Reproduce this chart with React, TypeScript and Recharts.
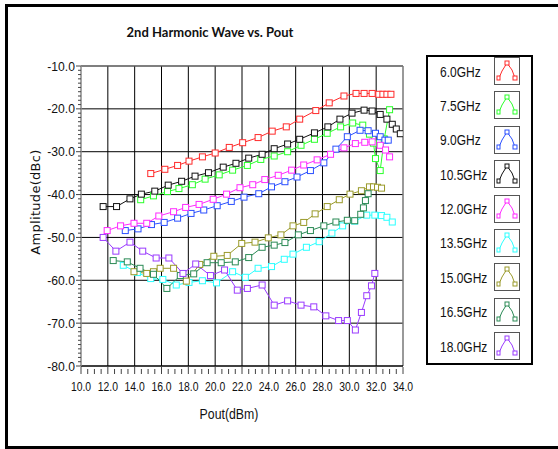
import React from "react"
import { ComposedChart, Line, XAxis, YAxis, CartesianGrid, ReferenceLine, Legend } from "recharts"

type Pt = [number, number]

// Pout (dBm), amplitude (dBc) per frequency
const f60: Pt[] = [
  [15.2, -35.1], [16.25, -34.1], [17.2, -33.2], [18.05, -32.2], [19.05, -31.2], [20.0, -30.3],
  [21.05, -29.0], [22.05, -27.9], [23.2, -26.7], [24.25, -25.2], [25.3, -24.2], [26.3, -22.4],
  [27.5, -20.4], [28.5, -18.6], [29.6, -17.0], [30.5, -16.4], [31.1, -16.4], [31.7, -16.4],
  [32.2, -16.6], [32.5, -16.6], [32.8, -16.6], [33.1, -16.6],
]
const f75: Pt[] = [
  [14.45, -41.2], [15.4, -40.3], [16.45, -39.3], [17.3, -38.6], [18.3, -37.7], [19.25, -36.4],
  [20.3, -35.4], [21.3, -34.3], [22.4, -33.2], [23.4, -31.8], [24.4, -31.0], [25.4, -30.0],
  [26.4, -28.5], [27.4, -27.1], [28.35, -25.7], [29.35, -24.2], [30.25, -23.3], [31.0, -23.8],
  [31.5, -25.9], [31.8, -28.0], [31.95, -31.6], [32.3, -34.4], [32.6, -27.0], [33.0, -20.2],
]
const f90: Pt[] = [
  [13.3, -48.4], [14.25, -48.0], [15.25, -47.0], [16.2, -46.5], [17.2, -45.5], [18.2, -44.4],
  [19.15, -43.6], [20.15, -42.6], [21.2, -41.6], [22.15, -40.6], [23.25, -39.8], [24.2, -38.2],
  [25.2, -37.0], [26.1, -35.9], [27.1, -34.4], [28.1, -32.6], [29.0, -29.4], [29.85, -26.5],
  [30.8, -25.0], [31.4, -25.1], [31.95, -25.7], [32.3, -26.5], [32.65, -27.3], [32.9, -27.3],
]
const f105: Pt[] = [
  [11.65, -42.8], [12.65, -42.8], [13.65, -41.0], [14.5, -39.9], [15.5, -39.2], [16.5, -37.8],
  [17.5, -36.9], [18.5, -35.7], [19.5, -34.9], [20.6, -33.6], [21.55, -32.7], [22.5, -31.5],
  [23.5, -30.6], [24.4, -29.3], [25.4, -28.2], [26.3, -27.1], [27.4, -25.6], [28.4, -24.2],
  [29.3, -22.4], [30.2, -21.0], [31.1, -20.3], [31.7, -20.5], [32.3, -21.3], [32.8, -22.4],
  [33.2, -23.6], [33.5, -24.7], [33.8, -25.8],
]
const f120: Pt[] = [
  [11.95, -48.4], [12.95, -47.3], [13.95, -46.7], [14.9, -46.7], [15.8, -45.0], [16.9, -44.0],
  [17.8, -43.0], [18.8, -42.3], [19.85, -41.1], [20.85, -39.9], [21.85, -38.4], [22.8, -37.7],
  [23.7, -36.5], [24.7, -35.5], [25.7, -34.3], [26.6, -33.1], [27.6, -31.9], [28.6, -30.6],
  [29.6, -29.1], [30.45, -28.1], [31.15, -27.8], [31.7, -27.7], [32.3, -28.5], [32.7, -29.6],
  [33.0, -31.2],
]
const f135: Pt[] = [
  [13.15, -56.5], [14.2, -58.2], [15.2, -59.6], [16.1, -59.8], [17.1, -61.1], [18.05, -60.5],
  [19.05, -60.1], [20.1, -60.6], [21.3, -58.0], [22.25, -59.3], [23.2, -57.2], [24.2, -56.8],
  [25.15, -55.1], [25.8, -53.9], [26.8, -52.3], [27.75, -51.0], [28.7, -49.0], [29.5, -47.3],
  [30.4, -46.2], [31.3, -44.8], [31.9, -44.8], [32.4, -44.9], [32.8, -45.3], [33.2, -46.4],
]
const f150: Pt[] = [
  [13.95, -58.0], [14.9, -58.4], [15.4, -58.0], [15.9, -57.2], [16.9, -57.2], [17.85, -60.2],
  [18.85, -56.3], [19.9, -54.4], [20.9, -54.2], [21.98, -51.4], [22.97, -51.1], [23.96, -50.1],
  [24.9, -49.4], [25.8, -47.3], [26.6, -46.5], [27.45, -44.5], [28.35, -42.8], [29.25, -41.2],
  [30.05, -39.9], [30.9, -39.1], [31.5, -38.2], [31.8, -38.2], [32.1, -38.3], [32.4, -38.5],
]
const f165: Pt[] = [
  [12.4, -55.4], [13.45, -55.7], [14.4, -57.2], [15.4, -58.6], [16.4, -61.9], [17.4, -58.9],
  [18.4, -58.5], [19.4, -55.9], [20.45, -55.9], [21.5, -55.7], [22.5, -54.7], [23.5, -52.3],
  [24.4, -51.8], [25.2, -51.2], [26.2, -49.4], [27.1, -48.4], [28.1, -47.3], [29.0, -46.4],
  [29.85, -46.0], [30.4, -46.1], [30.85, -44.6], [31.05, -43.1], [31.2, -41.4], [31.4, -39.8],
]
const f180: Pt[] = [
  [11.65, -50.0], [12.6, -53.2], [13.65, -51.1], [14.6, -53.2], [15.6, -54.8], [16.55, -54.8],
  [17.6, -58.4], [18.55, -56.2], [19.65, -58.9], [20.7, -57.6], [21.65, -62.3], [22.4, -61.9],
  [23.5, -61.1], [24.4, -65.8], [25.4, -64.8], [26.4, -65.8], [27.35, -66.2], [28.25, -68.3],
  [29.2, -69.4], [29.85, -69.4], [30.45, -71.6], [30.9, -67.5], [31.3, -63.6], [31.65, -61.3],
  [31.9, -58.4],
]

const seriesNames = ["6.0GHz", "7.5GHz", "9.0GHz", "10.5GHz", "12.0GHz", "13.5GHz", "15.0GHz", "16.5GHz", "18.0GHz"]
const seriesColors = ["#ff2a2a", "#2aff2a", "#2a4fff", "#111111", "#ff2aff", "#2affff", "#9a9a2a", "#2a8a55", "#9a3aff"]
const seriesPoints = [f60, f75, f90, f105, f120, f135, f150, f165, f180]

const xMajor = [10, 12, 14, 16, 18, 20, 22, 24, 26, 28, 30, 32, 34]
const yMajor = [-80, -70, -60, -50, -40, -30, -20, -10]

const xTicks: number[] = []
for (let v = 10; v <= 34; v += 0.5) xTicks.push(v)
const yTicks: number[] = []
for (let v = -80; v <= -10; v += 1) yTicks.push(v)

const narrow = "'Liberation Sans', Arial, sans-serif"

const XTick = (props: any) => {
  const { x, y, payload } = props
  const major = xMajor.includes(payload.value)
  return (
    <g>
      <line x1={x} x2={x} y1={y + (major ? 1 : 3)} y2={y + 8} stroke="#444" />
      {major && (
        <text transform={`translate(${x},${y + 25}) scale(0.8,1)`} textAnchor="middle" fontSize={13} fill="#111" fontFamily={narrow}>
          {payload.value.toFixed(1)}
        </text>
      )}
    </g>
  )
}

const YTick = (props: any) => {
  const { x, y, payload } = props
  const major = yMajor.includes(payload.value)
  return (
    <g>
      <line x1={x - (major ? 5 : 3)} x2={x} y1={y} y2={y} stroke="#444" />
      {major && (
        <text transform={`translate(${x - 6},${y + 4.5}) scale(0.9,1)`} textAnchor="end" fontSize={13.5} fill="#111" fontFamily={narrow}>
          {payload.value.toFixed(1)}
        </text>
      )}
    </g>
  )
}

const makeDot = (color: string) => (p: any) => (
  <rect key={p.index} x={p.cx - 3} y={p.cy - 3} width={6} height={6} fill="#fff" stroke={color} strokeWidth={1} />
)

const Swatch = ({ color }: { color: string }) => (
  <svg width={26} height={28} style={{ display: "block" }}>
    <rect x={0.5} y={0.5} width={25} height={27} fill="#fff" stroke="#555" />
    <polyline points="5,21 8,14 13,6 18,13 21,21" fill="none" stroke={color} />
    <rect x={11} y={4} width={4} height={4} fill="#fff" stroke={color} />
    <rect x={3} y={19} width={3} height={4} fill="#fff" stroke={color} />
    <rect x={19} y={19} width={4} height={4} fill="#fff" stroke={color} />
  </svg>
)

const LegendBox = () => (
  <div style={{ width: 107, height: 310, boxSizing: "border-box", border: "2px solid #000", background: "#fff" }}>
    {seriesNames.map((name, i) => (
      <div key={name} style={{ display: "flex", alignItems: "flex-start", height: 34.4 }}>
        <div style={{ width: 54, paddingLeft: 12, height: 28, display: "flex", alignItems: "center" }}>
          <span style={{ display: "inline-block", transform: "scaleX(0.8)", transformOrigin: "left center", whiteSpace: "nowrap", fontFamily: narrow, fontSize: 15, color: "#111" }}>
            {name}
          </span>
        </div>
        <Swatch color={seriesColors[i]} />
      </div>
    ))}
  </div>
)

export default function App() {
  return (
    <div style={{ position: "absolute", left: 0, top: 0, width: 558, height: 449, background: "#fff", overflow: "hidden" }}>
      <div style={{ position: "absolute", left: 5, top: 4, width: 600, height: 445, boxSizing: "border-box", border: "3px solid #000" }} />
      <div style={{ position: "absolute", left: 110, top: 24, width: 200, textAlign: "center", fontFamily: "Lato, sans-serif", fontWeight: 700, fontSize: 13, color: "#111" }}>
        2nd Harmonic Wave vs. Pout
      </div>
      <div style={{ position: "absolute", left: 179, top: 405, width: 100, textAlign: "center", transform: "scaleX(0.82)", fontFamily: narrow, fontSize: 15, color: "#111" }}>
        Pout(dBm)
      </div>
      <div style={{ position: "absolute", left: 35, top: 202, width: 0, height: 0 }}>
        <div style={{ position: "absolute", transform: "translate(-50%, -50%) rotate(-90deg)", whiteSpace: "nowrap", fontFamily: "'DejaVu Sans', sans-serif", fontSize: 13, letterSpacing: 0.3, color: "#111" }}>
          Amplitude(dBc)
        </div>
      </div>
      <ComposedChart width={558} height={449} margin={{ top: 66, right: 155, bottom: 0, left: 0 }} style={{ position: "absolute", left: 0, top: 0 }}>
        <CartesianGrid
          stroke="#000"
          strokeWidth={1}
          horizontalValues={[-70, -60, -50, -40, -30, -20]}
          verticalValues={[12, 14, 16, 18, 20, 22, 24, 26, 28, 30, 32]}
        />
        <ReferenceLine y={-10} stroke="#555" strokeWidth={1.5} />
        <ReferenceLine x={34} stroke="#777" strokeWidth={1.5} />
        <XAxis
          type="number"
          dataKey="x"
          domain={[10, 34]}
          ticks={xTicks}
          interval={0}
          tickSize={0}
          tickMargin={0}
          tick={<XTick />}
          height={83}
          axisLine={{ stroke: "#000", strokeWidth: 1.5 }}
          tickLine={false}
          allowDataOverflow
        />
        <YAxis
          type="number"
          domain={[-80, -10]}
          ticks={yTicks}
          interval={0}
          tickSize={0}
          tickMargin={0}
          tick={<YTick />}
          width={81}
          axisLine={{ stroke: "#888", strokeWidth: 1.5 }}
          tickLine={false}
          allowDataOverflow
        />
        {seriesPoints.map((pts, i) => (
          <Line
            key={seriesNames[i]}
            name={seriesNames[i]}
            data={pts.map(([x, y]) => ({ x, y }))}
            dataKey="y"
            type="linear"
            stroke={seriesColors[i]}
            strokeWidth={1}
            dot={makeDot(seriesColors[i])}
            activeDot={false}
            isAnimationActive={false}
          />
        ))}
        <Legend
          layout="vertical"
          align="center"
          verticalAlign="middle"
          content={<LegendBox />}
          wrapperStyle={{ left: 426, top: 55, width: 107, height: 310 }}
        />
      </ComposedChart>
    </div>
  )
}
